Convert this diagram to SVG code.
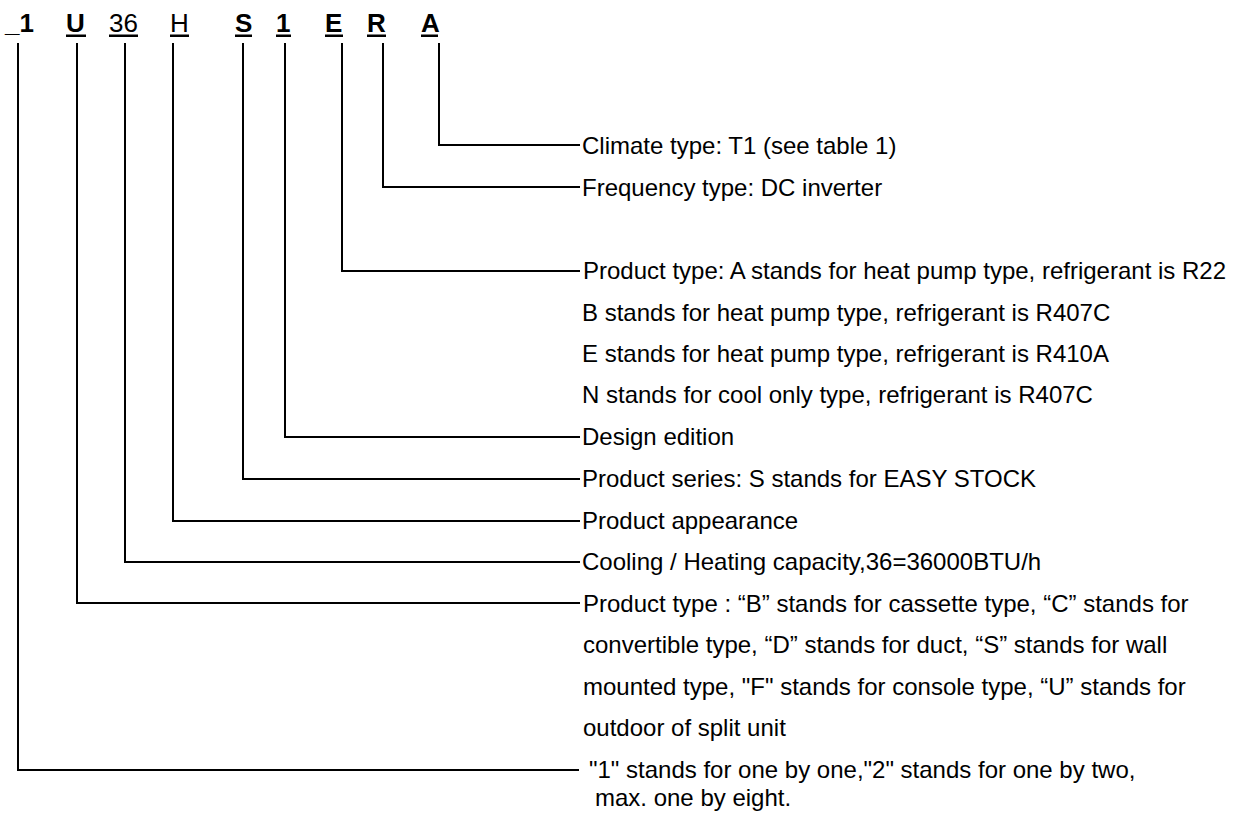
<svg xmlns="http://www.w3.org/2000/svg" width="1239" height="814" viewBox="0 0 1239 814">
<style>
.code{font-family:"Liberation Sans",Arial,sans-serif;font-size:26px;fill:#000}
.b{font-weight:bold}
.lbl{font-family:"Liberation Sans",Arial,sans-serif;font-size:24px;fill:#000}
.ul{fill:#000}
.conn{fill:none;stroke:#000;stroke-width:2}
</style>
<rect width="1239" height="814" fill="#fff"/>
<g id="code">
  <g id="c-1a"><text class="code b" x="5" y="32">_1</text></g>
  <g id="c-U"><text class="code b" x="66" y="32">U</text><rect class="ul" x="66" y="34.5" width="20" height="2.5"/></g>
  <g id="c-36"><text class="code" x="109" y="32">36</text><rect class="ul" x="109" y="34.5" width="29" height="2.5"/></g>
  <g id="c-H"><text class="code" x="170" y="32">H</text><rect class="ul" x="170" y="34.5" width="19" height="2.5"/></g>
  <g id="c-S"><text class="code b" x="235" y="32">S</text><rect class="ul" x="235" y="34.5" width="17" height="2.5"/></g>
  <g id="c-1b"><text class="code b" x="276" y="32">1</text><rect class="ul" x="276" y="34.5" width="15" height="2.5"/></g>
  <g id="c-E"><text class="code b" x="325" y="32">E</text><rect class="ul" x="325" y="34.5" width="18" height="2.5"/></g>
  <g id="c-R"><text class="code b" x="367" y="32">R</text><rect class="ul" x="367" y="34.5" width="19" height="2.5"/></g>
  <g id="c-A"><text class="code b" x="421" y="32">A</text><rect class="ul" x="421" y="34.5" width="17" height="2.5"/></g>
</g>
<g id="connectors">
  <polyline class="conn" points="439,43 439,145 580,145"/>
  <polyline class="conn" points="383,43 383,187 580,187"/>
  <polyline class="conn" points="342,43 342,271 580,271"/>
  <polyline class="conn" points="285,43 285,437 580,437"/>
  <polyline class="conn" points="243,43 243,479 580,479"/>
  <polyline class="conn" points="173,43 173,521 580,521"/>
  <polyline class="conn" points="125,43 125,562 580,562"/>
  <polyline class="conn" points="77,43 77,603 580,603"/>
  <polyline class="conn" points="18,43 18,770 579,770"/>
</g>
<g id="n-climate"><text class="lbl" x="582" y="154">Climate type: T1 (see table 1)</text></g>
<g id="n-frequency"><text class="lbl" x="582" y="196">Frequency type: DC inverter</text></g>
<g id="n-product-type">
  <text class="lbl" x="583" y="279">Product type: A stands for heat pump type, refrigerant is R22</text>
  <text class="lbl" x="582" y="321">B stands for heat pump type, refrigerant is R407C</text>
  <text class="lbl" x="582" y="362">E stands for heat pump type, refrigerant is R410A</text>
  <text class="lbl" x="582" y="403">N stands for cool only type, refrigerant is R407C</text>
</g>
<g id="n-design"><text class="lbl" x="582" y="445">Design edition</text></g>
<g id="n-series"><text class="lbl" x="582" y="487">Product series: S stands for EASY STOCK</text></g>
<g id="n-appearance"><text class="lbl" x="582" y="529">Product appearance</text></g>
<g id="n-capacity"><text class="lbl" x="582" y="570">Cooling / Heating capacity,36=36000BTU/h</text></g>
<g id="n-unit-type">
  <text class="lbl" x="583" y="612">Product type : “B” stands for cassette type, “C” stands for</text>
  <text class="lbl" x="583" y="653">convertible type, “D” stands for duct, “S” stands for wall</text>
  <text class="lbl" x="583" y="695">mounted type, "F" stands for console type, “U” stands for</text>
  <text class="lbl" x="583" y="736">outdoor of split unit</text>
</g>
<g id="n-combination">
  <text class="lbl" x="589" y="778">"1" stands for one by one,"2" stands for one by two,</text>
  <text class="lbl" x="595" y="806">max. one by eight.</text>
</g>
</svg>
